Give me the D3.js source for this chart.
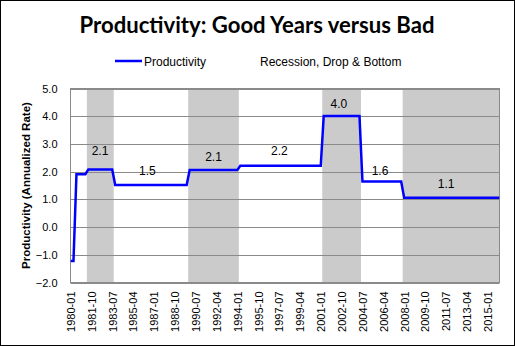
<!DOCTYPE html>
<html>
<head>
<meta charset="utf-8">
<script src="https://d3js.org/d3.v7.min.js"></script>
<style>
  body { margin: 0px; background: #fff; }
  .tick text { font: 11px "Liberation Sans", Arial, sans-serif; fill: #000; }
  .lbl { font: 12px "Liberation Sans", Arial, sans-serif; fill: #000; text-anchor: middle; }
</style>
</head>
<body>
<svg id="chart" width="515" height="346"></svg>
<script>
// quarterly productivity, 1980-01 .. 2016-01 (one value per quarter)
var productivity = [
  -1.22, -1.22, 1.91, 1.91,   // 1980
  1.91, 1.91, 2.08, 2.08,     // 1981
  2.08, 2.08, 2.08, 2.08,     // 1982
  2.08, 2.08, 2.08, 1.52,     // 1983
  1.52, 1.52, 1.52, 1.52,     // 1984
  1.52, 1.52, 1.52, 1.52,     // 1985
  1.52, 1.52, 1.52, 1.52,     // 1986
  1.52, 1.52, 1.52, 1.52,     // 1987
  1.52, 1.52, 1.52, 1.52,     // 1988
  1.52, 1.52, 1.52, 1.52,     // 1989
  2.06, 2.06, 2.06, 2.06,     // 1990
  2.06, 2.06, 2.06, 2.06,     // 1991
  2.06, 2.06, 2.06, 2.06,     // 1992
  2.06, 2.06, 2.06, 2.06,     // 1993
  2.06, 2.21, 2.21, 2.21,     // 1994
  2.21, 2.21, 2.21, 2.21,     // 1995
  2.21, 2.21, 2.21, 2.21,     // 1996
  2.21, 2.21, 2.21, 2.21,     // 1997
  2.21, 2.21, 2.21, 2.21,     // 1998
  2.21, 2.21, 2.21, 2.21,     // 1999
  2.21, 2.21, 2.21, 2.21,     // 2000
  2.21, 4.01, 4.01, 4.01,     // 2001
  4.01, 4.01, 4.01, 4.01,     // 2002
  4.01, 4.01, 4.01, 4.01,     // 2003
  4.01, 4.01, 1.64, 1.64,     // 2004
  1.64, 1.64, 1.64, 1.64,     // 2005
  1.64, 1.64, 1.64, 1.64,     // 2006
  1.64, 1.64, 1.64, 1.64,     // 2007
  1.06, 1.06, 1.06, 1.06,     // 2008
  1.06, 1.06, 1.06, 1.06,     // 2009
  1.06, 1.06, 1.06, 1.06,     // 2010
  1.06, 1.06, 1.06, 1.06,     // 2011
  1.06, 1.06, 1.06, 1.06,     // 2012
  1.06, 1.06, 1.06, 1.06,     // 2013
  1.06, 1.06, 1.06, 1.06,     // 2014
  1.06, 1.06, 1.06, 1.06,     // 2015
  1.06                        // 2016
];

// recession, drop & bottom periods (quarter index, first and last)
var bandStart = [6, 40, 85, 112];
var bandEnd   = [14, 56, 97, 144];

// x tick labels, every 7 quarters
var tickIdx    = [0, 7, 14, 21, 28, 35, 42, 49, 56, 63, 70, 77, 84, 91, 98, 105, 112, 119, 126, 133, 140];
var tickLabels = ["1980-01","1981-10","1983-07","1985-04","1987-01","1988-10","1990-07","1992-04","1994-01","1995-10",
                  "1997-07","1999-04","2001-01","2002-10","2004-07","2006-04","2008-01","2009-10","2011-07","2013-04","2015-01"];

var yTicks = [-2, -1, 0, 1, 2, 3, 4, 5];

// period average labels (quarter index, level in chart units, text)
var labelIdx  = [9.9, 25.8, 48, 70.1, 90.1, 103.9, 126.1];
var labelY    = [2.75, 2.03, 2.54, 2.75, 4.43, 2.03, 1.55];
var labelText = ["2.1", "1.5", "2.1", "2.2", "4.0", "1.6", "1.1"];

var svg = d3.select("#chart");
var pLeft = 70.5, pTop = 88.5, pRight = 499.5, pBottom = 282.5;

var x = d3.scaleLinear().domain([0, productivity.length - 1]).range([pLeft, pRight]);
var y = d3.scaleLinear().domain([-2, 5]).range([pBottom, pTop]);
var qw = x(1) - x(0);

svg.append("rect").attr("x", 0.5).attr("y", 0.5).attr("width", 514).attr("height", 345)
   .attr("fill", "#fff").attr("stroke", "#000").attr("stroke-width", 1);

svg.append("clipPath").attr("id", "clip").append("rect")
   .attr("x", pLeft).attr("y", pTop).attr("width", pRight - pLeft).attr("height", pBottom - pTop);

// gray bands
svg.append("g").attr("clip-path", "url(#clip)").selectAll("rect")
  .data(bandStart)
  .enter().append("rect")
    .attr("x", function(d) { return x(d) - qw / 2; })
    .attr("y", pTop)
    .attr("width", function(d, i) { return x(bandEnd[i]) - x(d) + qw; })
    .attr("height", pBottom - pTop)
    .attr("fill", "#cbcbcb");

// gridlines
svg.append("g").selectAll("line")
  .data(yTicks)
  .enter().append("line")
    .attr("x1", pLeft).attr("x2", pRight)
    .attr("y1", function(d) { return Math.round(y(d)) + 0.5; })
    .attr("y2", function(d) { return Math.round(y(d)) + 0.5; })
    .attr("stroke", "#8a8a8a").attr("stroke-width", 1);

svg.append("rect").attr("x", pLeft).attr("y", pTop)
   .attr("width", pRight - pLeft).attr("height", pBottom - pTop)
   .attr("fill", "none").attr("stroke", "#8a8a8a");

// y axis
var yAxis = svg.append("g").attr("transform", "translate(" + pLeft + ",0)")
  .call(d3.axisLeft(y).tickValues(yTicks).tickSize(0).tickPadding(13).tickFormat(d3.format(".1f")));
yAxis.select(".domain").remove();

// x axis
var xAxis = svg.append("g").attr("transform", "translate(0," + pBottom + ")")
  .call(d3.axisBottom(x).tickValues(tickIdx).tickSize(0).tickFormat(function(d, i) { return tickLabels[i]; }));
xAxis.select(".domain").remove();
xAxis.selectAll("text")
  .attr("transform", "rotate(-90)")
  .attr("x", -9).attr("y", 0).attr("dy", "0.35em")
  .style("text-anchor", "end");

// line
var line = d3.line()
  .x(function(d, i) { return x(i); })
  .y(function(d) { return y(d); });

svg.append("path")
  .datum(productivity)
  .attr("clip-path", "url(#clip)")
  .attr("fill", "none")
  .attr("stroke", "#0000ff")
  .attr("stroke-width", 2.5)
  .attr("d", line);

// period labels
svg.append("g").selectAll("text")
  .data(labelText)
  .enter().append("text")
    .attr("class", "lbl")
    .attr("x", function(d, i) { return x(labelIdx[i]); })
    .attr("y", function(d, i) { return y(labelY[i]); })
    .attr("dy", "0.35em")
    .text(function(d) { return d; });

// title
svg.append("text")
  .attr("x", 257).attr("y", 33)
  .attr("text-anchor", "middle")
  .style("font", "bold 22px Lato, 'Liberation Sans', sans-serif")
  .attr("textLength", 355).attr("lengthAdjust", "spacingAndGlyphs")
  .text("Productivity: Good Years versus Bad");

// y axis title
svg.append("text")
  .attr("transform", "translate(30," + ((pTop + pBottom) / 2) + ") rotate(-90)")
  .attr("text-anchor", "middle")
  .style("font", "bold 11.5px 'Liberation Sans', Arial, sans-serif")
  .text("Productivity (Annualized Rate)");

// legend
svg.append("line").attr("x1", 115).attr("x2", 142).attr("y1", 61).attr("y2", 61)
   .attr("stroke", "#0000ff").attr("stroke-width", 2.5);
svg.append("text").attr("x", 144).attr("y", 65.5)
   .style("font", "12px 'Liberation Sans', Arial, sans-serif")
   .text("Productivity");
svg.append("text").attr("x", 260).attr("y", 65.5)
   .style("font", "12px 'Liberation Sans', Arial, sans-serif")
   .text("Recession, Drop & Bottom");
</script>
</body>
</html>
